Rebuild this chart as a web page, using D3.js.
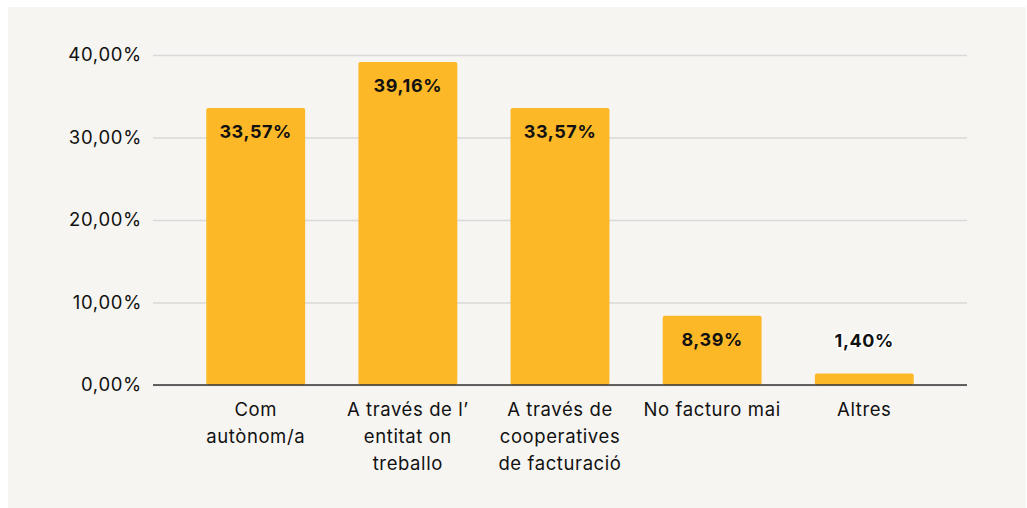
<!DOCTYPE html>
<html>
<head>
<meta charset="utf-8">
<script src="https://cdn.jsdelivr.net/npm/d3@7"></script>
<style>
  html, body { margin: 0; padding: 0; background: #ffffff; }
  svg { display: block; }
</style>
</head>
<body>
<svg id="chart" width="1027" height="508"></svg>
<script>
// ----------- DATA -----------
const categories = [
  ["Com", "autònom/a"],
  ["A través de l’", "entitat on", "treballo"],
  ["A través de", "cooperatives", "de facturació"],
  ["No facturo mai"],
  ["Altres"]
];
const values = [33.57, 39.16, 33.57, 8.39, 1.40];
const yTicks = [0, 10, 20, 30, 40];

// ----------- LAYOUT -----------
const svg = d3.select("#chart");
const plotLeft = 153, plotRight = 967, plotTop = 55, plotBottom = 385;
const font = "'Google Sans', Inter, Roboto, 'Open Sans', sans-serif";
const fmt = v => v.toFixed(2).replace(".", ",") + "%";

svg.append("rect")
  .attr("x", 8).attr("y", 7)
  .attr("width", 1018).attr("height", 501)
  .attr("fill", "#f6f5f2");

const x = d3.scaleBand()
  .domain(d3.range(values.length))
  .range([plotLeft, plotRight])
  .paddingInner(0.35)
  .paddingOuter(0.35);

const y = d3.scaleLinear().domain([0, 40]).range([plotBottom, plotTop]);

// gridlines + tick labels
const yAxis = svg.append("g")
  .attr("transform", `translate(${plotLeft},0)`)
  .call(d3.axisLeft(y).tickValues(yTicks).tickSize(-(plotRight - plotLeft)).tickFormat(fmt));
yAxis.select(".domain").remove();
yAxis.selectAll(".tick line").attr("stroke", "#d9d9d9").attr("stroke-width", 1.5);
yAxis.selectAll(".tick text")
  .attr("x", -11)
  .attr("fill", "#111")
  .style("font-family", font)
  .style("font-size", "18.5px")
  .style("letter-spacing", "0.7px");

// bars
svg.selectAll("rect.bar")
  .data(values)
  .enter()
  .append("rect")
  .attr("class", "bar")
  .attr("x", (d, i) => x(i))
  .attr("y", d => y(d))
  .attr("width", x.bandwidth())
  .attr("height", d => plotBottom - y(d))
  .attr("rx", 2)
  .attr("fill", "#fdb827");

// baseline
svg.append("line")
  .attr("x1", plotLeft).attr("x2", plotRight)
  .attr("y1", plotBottom).attr("y2", plotBottom)
  .attr("stroke", "#333").attr("stroke-width", 1.5);

// value labels (inside the bar near its top, above it when the bar is short)
svg.selectAll("text.val")
  .data(values)
  .enter()
  .append("text")
  .attr("class", "val")
  .attr("x", (d, i) => x(i) + x.bandwidth() / 2)
  .attr("y", d => (plotBottom - y(d) > 40 ? y(d) + 24 : y(d) - 33))
  .attr("dy", "0.35em")
  .attr("text-anchor", "middle")
  .attr("fill", "#111")
  .attr("stroke", d => (plotBottom - y(d) > 40 ? "none" : "#ffffff"))
  .attr("stroke-width", 3)
  .attr("paint-order", "stroke")
  .style("font-family", font)
  .style("font-size", "18px")
  .style("letter-spacing", "0.6px")
  .style("font-weight", "bold")
  .text(d => fmt(d));

// category labels
const cat = svg.selectAll("text.cat")
  .data(categories)
  .enter()
  .append("text")
  .attr("class", "cat")
  .attr("text-anchor", "middle")
  .attr("fill", "#111")
  .style("font-family", font)
  .style("font-size", "18.5px")
  .style("letter-spacing", "0.6px");

cat.each(function(lines, i) {
  d3.select(this).selectAll("tspan")
    .data(lines)
    .enter()
    .append("tspan")
    .attr("x", x(i) + x.bandwidth() / 2)
    .attr("y", (d, j) => 410 + j * 27)
    .attr("dy", "0.35em")
    .text(d => d);
});
</script>
</body>
</html>
